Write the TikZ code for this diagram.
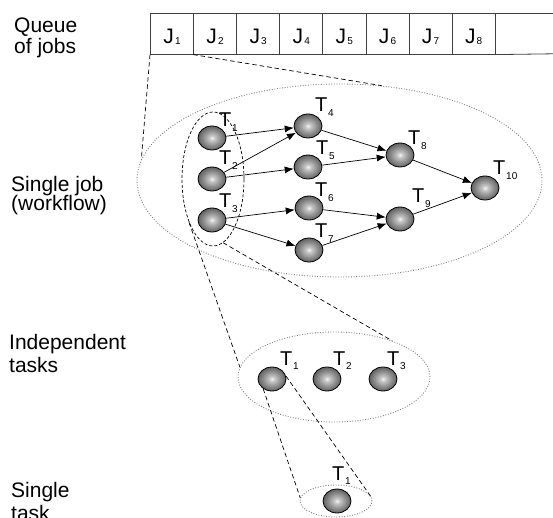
\documentclass[tikz,border=0pt]{standalone}
\usepackage{fontspec}
\setmainfont{Liberation Sans}
\usetikzlibrary{shapes.geometric,arrows.meta}

% grey ball with a bright centre
\pgfdeclareradialshading{ballshade}{\pgfpoint{0bp}{0bp}}{%
  color(0bp)=(black!4); color(5bp)=(black!22); color(16bp)=(black!45);
  color(25bp)=(black!62); color(50bp)=(black!62)}

% letter with a small index set below its baseline
\newcommand{\tsub}[2]{#1\kern0.8pt\raisebox{-4.5pt}{\fontsize{10}{10}\selectfont #2}}
\newcommand{\jsub}[2]{#1\kern1.2pt\raisebox{-1.5pt}{\fontsize{10}{10}\selectfont #2}}

\begin{document}
\begin{tikzpicture}[x=1pt,y=-1pt,
  ball/.style={ellipse, draw=black, line width=0.8pt, shading=ballshade,
    minimum width=28pt, minimum height=24pt, inner sep=0pt},
  tlabel/.style={anchor=base west, inner sep=0pt, font=\fontsize{20}{20}\selectfont},
  flow/.style={-{Latex[length=9pt,width=7pt]}, line width=0.7pt, black},
  zoomline/.style={black, line width=0.7pt, dash pattern=on 4.5pt off 3pt},
  group/.style={ellipse, draw=black!50, line width=0.9pt,
    dash pattern=on 0.9pt off 1.7pt, inner sep=0pt},
  cell/.style={draw=black!75, line width=0.8pt, minimum width=43.1pt,
    minimum height=40.5pt, inner sep=0pt, anchor=north west,
    font=\fontsize{21}{21}\selectfont, text height=19pt, text depth=0pt},
  caption/.style={anchor=base west, inner sep=0pt, font=\fontsize{21}{21}\selectfont},
]
\fill[white] (0,0) rectangle (553,518);
\useasboundingbox (0,0) rectangle (553,518);

% captions
\node[caption] (c1a) at (14,32.3) {Queue};
\node[caption] (c1b) at (14,53.3) {of jobs};
\node[caption] (c2a) at (11,191.7) {Single job};
\node[caption] (c2b) at (11,211) {(workflow)};
\node[caption] (c3a) at (9,349.3) {Independent};
\node[caption] (c3b) at (9,372.5) {tasks};
\node[caption] (c4a) at (11,497.3) {Single};
\node[caption] (c4b) at (11,520) {task};

% queue of jobs
\foreach \i in {1,...,8}
  \node[cell] (J\i) at ({150+43.1*(\i-1)},13.3) {\jsub{J}{\i}};
\coordinate (qtop) at (553,13.3);
\coordinate (qbot) at (553,53.8);
\draw[black!75, line width=0.8pt] (J8.north east) -- (qtop);
\draw[black!75, line width=0.8pt] (J8.south east) -- (qbot);

% grouping ellipses
\node[group, minimum width=405pt, minimum height=193pt] (job) at (339.5,180.5) {};
\node[ellipse, draw=black, line width=0.7pt, dash pattern=on 3pt off 2pt,
  inner sep=0pt, minimum width=62pt, minimum height=134pt] (sel) at (213,179) {};
\node[group, minimum width=192pt, minimum height=90pt] (indep) at (334,377) {};
\node[group, minimum width=72pt, minimum height=32pt] (single) at (336,501) {};

% workflow tasks
\node[ball] (t1) at (212,138) {};
\node[ball] (t2) at (212,179) {};
\node[ball] (t3) at (212,220) {};
\node[ball] (t4) at (308,126) {};
\node[ball] (t5) at (308,167) {};
\node[ball] (t6) at (309,208) {};
\node[ball] (t7) at (309,250) {};
\node[ball] (t8) at (400,155) {};
\node[ball] (t9) at (400,219) {};
\node[ball] (t10) at (485,188) {};

\node[tlabel] (l1) at (219,127) {\tsub{T}{1}};
\node[tlabel] (l2) at (219,165) {\tsub{T}{2}};
\node[tlabel] (l3) at (219,208) {\tsub{T}{3}};
\node[tlabel] (l4) at (315,112) {\tsub{T}{4}};
\node[tlabel] (l5) at (316,155) {\tsub{T}{5}};
\node[tlabel] (l6) at (315,197) {\tsub{T}{6}};
\node[tlabel] (l7) at (315,238) {\tsub{T}{7}};
\node[tlabel] (l8) at (408,145) {\tsub{T}{8}};
\node[tlabel] (l9) at (412,203) {\tsub{T}{9}};
\node[tlabel] (l10) at (493,175) {\tsub{T}{10}};

\draw[flow] (t1) -- (t4);
\draw[flow] (t2) -- (t4);
\draw[flow] (t2) -- (t5);
\draw[flow] (t3) -- (t6);
\draw[flow] (t3) -- (t7);
\draw[flow] (t4) -- (t8);
\draw[flow] (t5) -- (t8);
\draw[flow] (t6) -- (t9);
\draw[flow] (t7) -- (t9);
\draw[flow] (t8) -- (t10);
\draw[flow] (t9) -- (t10);

% independent tasks
\node[ball] (u1) at (272,379) {};
\node[ball] (u2) at (327,379) {};
\node[ball] (u3) at (383,379) {};
\node[tlabel] (m1) at (280,365) {\tsub{T}{1}};
\node[tlabel] (m2) at (333,365) {\tsub{T}{2}};
\node[tlabel] (m3) at (387,365) {\tsub{T}{3}};

% single task
\node[ball] (s1) at (337,501) {};
\node[tlabel] (n1) at (332,480) {\tsub{T}{1}};

% zoom-in guides
\draw[zoomline] (J1.south west) -- (job.174.1);
\draw[zoomline] (J2.south west) -- (job.66.8);
\draw[zoomline] (sel.241.9) -- (indep.174.5);
\draw[zoomline] (sel.279.9) -- (indep.32.1);
\draw[zoomline] (u1.228) -- (single.175);
\draw[zoomline] (u1.12) -- (single.5);
\end{tikzpicture}
\end{document}
